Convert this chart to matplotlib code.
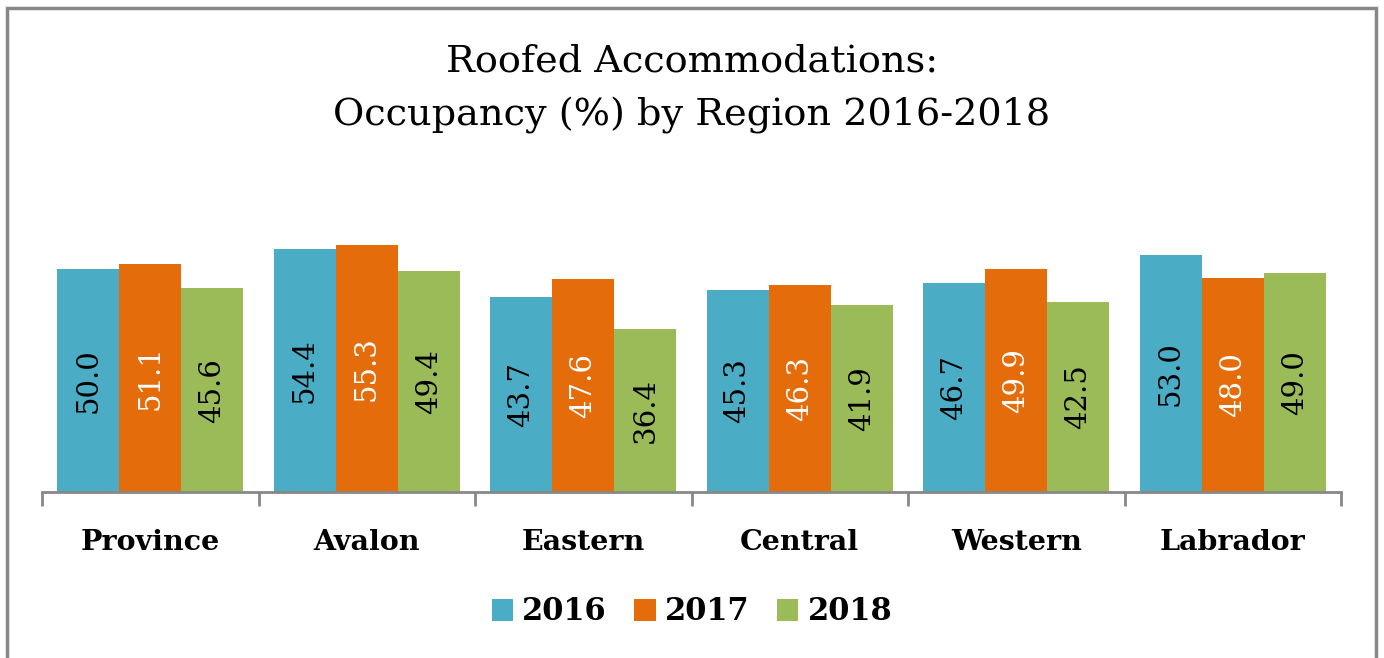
import matplotlib.pyplot as plt
from matplotlib.patches import Rectangle, Patch
import numpy as np

regions = ['Province', 'Avalon', 'Eastern', 'Central', 'Western', 'Labrador']
years = ['2016', '2017', '2018']
occ_2016 = [50.0, 54.4, 43.7, 45.3, 46.7, 53.0]
occ_2017 = [51.1, 55.3, 47.6, 46.3, 49.9, 48.0]
occ_2018 = [45.6, 49.4, 36.4, 41.9, 42.5, 49.0]

colors = ['#4BACC6', '#E46C0A', '#9BBB59']
label_colors = ['black', 'white', 'black']
series = [occ_2016, occ_2017, occ_2018]

plt.rcParams['font.family'] = ['DejaVu Serif']

W, H = 1384, 658
fig = plt.figure(figsize=(W / 100, H / 100), dpi=100)

# outer border
fig.patches.append(Rectangle((7 / W, -0.1), (1376 - 7) / W, 1.1 - 8 / H,
                             transform=fig.transFigure, fill=False,
                             edgecolor='#888888', linewidth=2.5))

ax = fig.add_axes([42 / W, (H - 492) / H, (1341 - 42) / W, 268 / H])
ax.set_xlim(-0.5, len(regions) - 0.5)
ax.set_ylim(0, 60)

x = np.arange(len(regions))
bw = 0.287
for i, (vals, c, lc) in enumerate(zip(series, colors, label_colors)):
    pos = x + (i - 1) * bw
    ax.bar(pos, vals, width=bw, color=c, edgecolor='none', zorder=2)
    for p, v in zip(pos, vals):
        ax.text(p, v / 2, f'{v:.1f}', rotation=90, ha='center', va='center',
                color=lc, fontsize=21)

for s in ['top', 'right', 'left']:
    ax.spines[s].set_visible(False)
ax.spines['bottom'].set_color('#888888')
ax.spines['bottom'].set_linewidth(2)
ax.set_yticks([])

ax.set_xticks(np.arange(len(regions) + 1) - 0.5)
ax.set_xticklabels([])
ax.tick_params(axis='x', which='major', length=10, width=2, color='#888888')
ax.set_xticks(x, minor=True)
ax.set_xticklabels(regions, minor=True, fontsize=20.5, fontweight='bold')
ax.tick_params(axis='x', which='minor', length=0, pad=27)

fig.text(0.5, 1 - 62 / H, 'Roofed Accommodations:', ha='center', va='center', fontsize=27.5)
fig.text(0.5, 1 - 116 / H, 'Occupancy (%) by Region 2016-2018', ha='center', va='center', fontsize=27.5)

handles = [Patch(facecolor=c, edgecolor='none') for c in colors]
fig.legend(handles, years, loc='center', bbox_to_anchor=(0.5, 1 - 612 / H), ncol=3,
           frameon=False, prop={'size': 22, 'weight': 'bold'},
           handlelength=0.7, handleheight=0.7, handletextpad=0.3, columnspacing=0.9)

fig.savefig('out.png', dpi=100)
